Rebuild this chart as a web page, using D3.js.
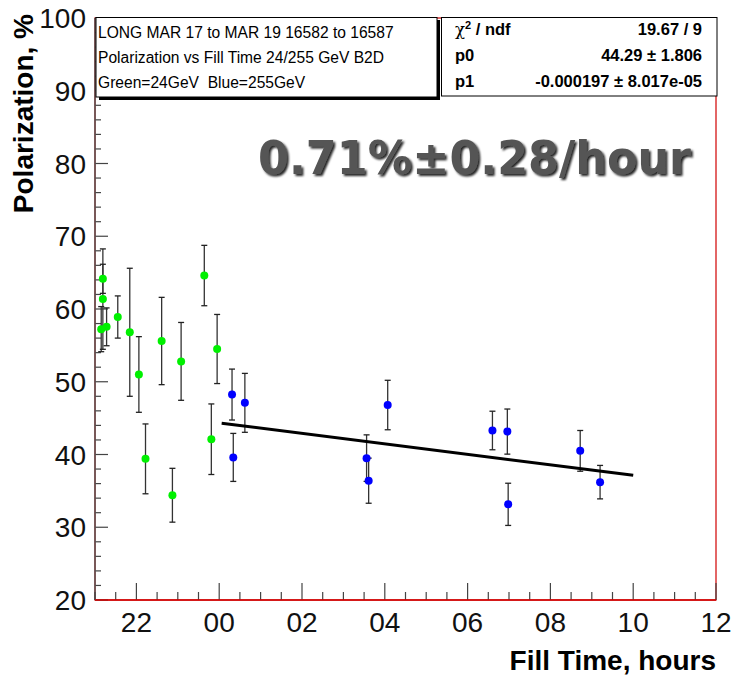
<!DOCTYPE html>
<html><head><meta charset="utf-8">
<script src="https://cdn.jsdelivr.net/npm/d3@7"></script>
<style>html,body{margin:0;padding:0;background:#fff;}svg{display:block;}</style>
</head><body>
<svg id="c" width="731" height="677"></svg>
<script>
// ---- data (hours relative to midnight, polarization %) ----
const greenX   = [-2.81, -2.81, -2.85, -2.72, -2.45, -2.16, -1.94, -1.78, -1.39, -1.13, -0.92, -0.36, -0.19, -0.05];
const greenY   = [64.15, 61.36, 57.23, 57.55, 58.9, 56.8, 51.0, 39.4, 55.6, 34.4, 52.8, 64.6, 42.1, 54.5];
const greenErr = [2.0, 6.9, 3.1, 2.6, 2.9, 8.8, 5.2, 4.8, 6.0, 3.7, 5.35, 4.15, 4.85, 4.75];
const blueX    = [0.31, 0.34, 0.62, 3.56, 3.61, 4.07, 6.60, 6.96, 6.98, 8.72, 9.20];
const blueY    = [48.24, 39.6, 47.1, 39.5, 36.4, 46.8, 43.3, 43.15, 33.15, 40.5, 36.2];
const blueErr  = [3.5, 3.3, 4.05, 3.2, 3.1, 3.4, 2.65, 3.1, 2.9, 2.8, 2.3];
const fitX = [0.06, 10.0];
const fitY = [44.3, 37.15];
const xTickValues = [-2, 0, 2, 4, 6, 8, 10, 12];
const xTickLabels = ["22", "00", "02", "04", "06", "08", "10", "12"];
const yTickValues = [20, 30, 40, 50, 60, 70, 80, 90, 100];
const infoLines = ["LONG MAR 17 to MAR 19 16582 to 16587", "Polarization vs Fill Time 24/255 GeV B2D", "Green=24GeV  Blue=255GeV"];
const statNames = ["χ2 / ndf", "p0", "p1"];
const statValues = ["19.67 / 9", "44.29 ± 1.806", "-0.000197 ± 8.017e-05"];
const bigLabel = "0.71%±0.28/hour";

// ---- layout ----
const L = 95, R = 716, T = 18, B = 600;
const x = d3.scaleLinear().domain([-3, 12]).range([L, R]);
const y = d3.scaleLinear().domain([20, 100]).range([B, T]);
const svg = d3.select("#c");
const font = "'Liberation Sans', Arial, Helvetica, sans-serif";

const defs = svg.append("defs");
const f = defs.append("filter").attr("id", "shadow").attr("x", "-5%").attr("y", "-20%").attr("width", "115%").attr("height", "150%");
f.append("feDropShadow").attr("dx", 2).attr("dy", 2).attr("stdDeviation", 0.8)
  .attr("flood-color", "#000").attr("flood-opacity", 0.85);

// frame (red)
svg.append("rect").attr("x", L).attr("y", T).attr("width", R - L).attr("height", B - T)
  .attr("fill", "none").attr("stroke", "#d00000").attr("stroke-width", 1.2);

// y axis ticks
const yMinor = d3.range(20, 100.01, 2);
svg.append("g").selectAll("line").data(yMinor).join("line")
  .attr("x1", L).attr("x2", d => L + (d % 10 === 0 ? 13 : 6))
  .attr("y1", d => y(d)).attr("y2", d => y(d))
  .attr("stroke", "#444").attr("stroke-width", 1.2);
svg.append("line").attr("x1", L).attr("x2", L).attr("y1", T).attr("y2", B)
  .attr("stroke", "#555").attr("stroke-width", 1.5);
svg.append("g").selectAll("text").data(yTickValues).join("text")
  .attr("x", 86).attr("y", d => y(d) + 10).attr("text-anchor", "end")
  .attr("font-family", font).attr("font-size", 28).attr("fill", "#111")
  .text(d => d);

// x axis ticks
const xMinor = d3.range(-3, 12.01, 0.5);
svg.append("g").selectAll("line").data(xMinor).join("line")
  .attr("x1", d => x(d)).attr("x2", d => x(d))
  .attr("y1", B).attr("y2", d => B - (Math.abs(d % 2) === 0 ? 17 : 8))
  .attr("stroke", "#444").attr("stroke-width", 1.2);
svg.append("line").attr("x1", L).attr("x2", R).attr("y1", B).attr("y2", B)
  .attr("stroke", "#d00000").attr("stroke-width", 1.5);
svg.append("g").selectAll("text").data(xTickValues).join("text")
  .attr("x", d => x(d)).attr("y", 632).attr("text-anchor", "middle")
  .attr("font-family", font).attr("font-size", 28).attr("fill", "#111")
  .text((d, i) => xTickLabels[i]);

// axis titles
svg.append("text").attr("transform", "translate(33,14) rotate(-90)")
  .attr("text-anchor", "end").attr("font-family", font).attr("font-weight", "bold")
  .attr("font-size", 28).attr("fill", "#000").text("Polarization, %");
svg.append("text").attr("x", 716).attr("y", 670).attr("text-anchor", "end")
  .attr("font-family", font).attr("font-weight", "bold").attr("font-size", 28)
  .attr("fill", "#000").text("Fill Time, hours");

// error bars + points
function drawSeries(xs, ys, es, color) {
  const g = svg.append("g");
  const data = xs.map((d, i) => ({ x: d, y: ys[i], e: es[i] }));
  g.selectAll("line.v").data(data).join("line")
    .attr("x1", d => x(d.x)).attr("x2", d => x(d.x))
    .attr("y1", d => y(d.y + d.e)).attr("y2", d => y(d.y - d.e))
    .attr("stroke", "#333").attr("stroke-width", 1.3);
  ["top", "bot"].forEach(k => {
    g.selectAll("line." + k).data(data).join("line")
      .attr("x1", d => x(d.x) - 3).attr("x2", d => x(d.x) + 3)
      .attr("y1", d => y(k === "top" ? d.y + d.e : d.y - d.e))
      .attr("y2", d => y(k === "top" ? d.y + d.e : d.y - d.e))
      .attr("stroke", "#222").attr("stroke-width", 1.3);
  });
  return { g, data, color };
}
const gs = drawSeries(greenX, greenY, greenErr, "#00f000");
const bs = drawSeries(blueX, blueY, blueErr, "#0000ff");

// fit line
svg.append("line").attr("x1", x(fitX[0])).attr("y1", y(fitY[0]))
  .attr("x2", x(fitX[1])).attr("y2", y(fitY[1]))
  .attr("stroke", "#000").attr("stroke-width", 3);

[gs, bs].forEach(s => {
  s.g.selectAll("circle").data(s.data).join("circle")
    .attr("cx", d => x(d.x)).attr("cy", d => y(d.y)).attr("r", 4)
    .attr("fill", s.color);
});

// big label with shadow
const bigFont = "'DejaVu Sans', 'Noto Sans', sans-serif";
svg.append("text").attr("x", 258).attr("y", 174).attr("font-family", bigFont)
  .attr("font-weight", "bold").attr("font-size", 46).attr("fill", "#555")
  .attr("filter", "url(#shadow)")
  .attr("textLength", 433).attr("lengthAdjust", "spacingAndGlyphs").text(bigLabel);

// info box (left) with shadow
svg.append("rect").attr("x", 99).attr("y", 20).attr("width", 341).attr("height", 80).attr("fill", "#000");
svg.append("rect").attr("x", 96).attr("y", 17.5).attr("width", 341).attr("height", 79.5)
  .attr("fill", "#fff").attr("stroke", "#000").attr("stroke-width", 1);
svg.append("g").selectAll("text").data(infoLines).join("text")
  .attr("x", 98).attr("y", (d, i) => 38 + i * 25)
  .attr("xml:space", "preserve").style("white-space", "pre")
  .attr("font-family", font).attr("font-size", 15.6).attr("fill", "#000").text(d => d);

// stats box (right)
svg.append("rect").attr("x", 441.5).attr("y", 17.5).attr("width", 275.5).attr("height", 78.5)
  .attr("fill", "#fff").attr("stroke", "#000").attr("stroke-width", 1);
const st = svg.append("g").attr("font-family", font).attr("font-weight", "bold").attr("font-size", 16.5).attr("fill", "#000");
statNames.forEach((n, i) => {
  const t = st.append("text").attr("x", 455).attr("y", 35 + i * 26);
  if (n.startsWith("χ2")) {
    t.append("tspan").attr("font-family", "'DejaVu Serif', serif").attr("font-weight", "normal").text("χ");
    t.append("tspan").attr("font-size", 11).attr("dy", -6).text("2");
    t.append("tspan").attr("dy", 6).text(" / ndf");
  } else t.text(n);
});
st.selectAll("text.v").data(statValues).join("text").attr("class", "v")
  .attr("x", 702).attr("y", (d, i) => 35 + i * 26).attr("text-anchor", "end").text(d => d);
</script>
</body></html>
